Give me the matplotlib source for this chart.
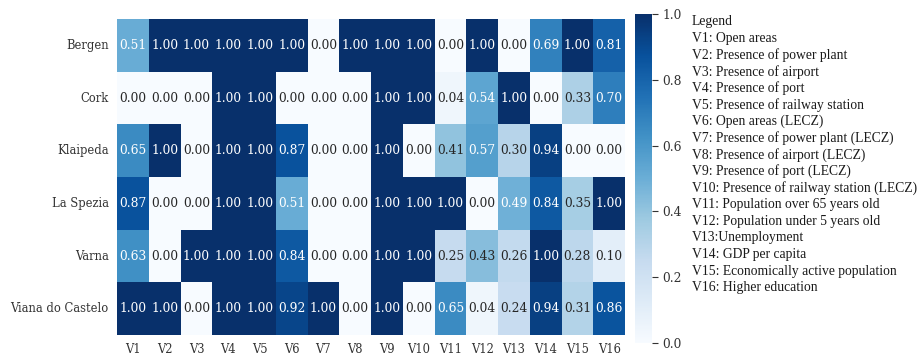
import numpy as np
import pandas as pd
import matplotlib
matplotlib.use('Agg')
import matplotlib.pyplot as plt
import seaborn as sns

## data ##
cities = ['Bergen', 'Cork', 'Klaipeda', 'La Spezia', 'Varna', 'Viana do Castelo']
variables = ['V' + str(i) for i in range(1, 17)]

bergen   = [0.51, 1.00, 1.00, 1.00, 1.00, 1.00, 0.00, 1.00, 1.00, 1.00, 0.00, 1.00, 0.00, 0.69, 1.00, 0.81]
cork     = [0.00, 0.00, 0.00, 1.00, 1.00, 0.00, 0.00, 0.00, 1.00, 1.00, 0.04, 0.54, 1.00, 0.00, 0.33, 0.70]
klaipeda = [0.65, 1.00, 0.00, 1.00, 1.00, 0.87, 0.00, 0.00, 1.00, 0.00, 0.41, 0.57, 0.30, 0.94, 0.00, 0.00]
spezia   = [0.87, 0.00, 0.00, 1.00, 1.00, 0.51, 0.00, 0.00, 1.00, 1.00, 1.00, 0.00, 0.49, 0.84, 0.35, 1.00]
varna    = [0.63, 0.00, 1.00, 1.00, 1.00, 0.84, 0.00, 0.00, 1.00, 1.00, 0.25, 0.43, 0.26, 1.00, 0.28, 0.10]
viana    = [1.00, 1.00, 0.00, 1.00, 1.00, 0.92, 1.00, 0.00, 1.00, 0.00, 0.65, 0.04, 0.24, 0.94, 0.31, 0.86]

legend_lines = ['Legend',
                'V1: Open areas',
                'V2: Presence of power plant',
                'V3: Presence of airport',
                'V4: Presence of port',
                'V5: Presence of railway station',
                'V6: Open areas (LECZ)',
                'V7: Presence of power plant (LECZ)',
                'V8: Presence of airport (LECZ)',
                'V9: Presence of port (LECZ)',
                'V10: Presence of railway station (LECZ)',
                'V11: Population over 65 years old',
                'V12: Population under 5 years old',
                'V13:Unemployment',
                'V14: GDP per capita',
                'V15: Economically active population',
                'V16: Higher education']

df = pd.DataFrame([bergen, cork, klaipeda, spezia, varna, viana],
                  index=cities, columns=variables)

## plot ##
W, H = 921, 355
fig = plt.figure(figsize=(W / 100, H / 100), dpi=100)
ax = fig.add_axes([117 / W, 1 - 335 / H, (625 - 117) / W, (335 - 19) / H])
cax = fig.add_axes([635 / W, 1 - 343 / H, (652 - 635) / W, (343 - 14) / H])

plt.rcParams['font.family'] = 'DejaVu Serif'
sns.heatmap(df, ax=ax, cbar_ax=cax, cmap='Blues', vmin=0, vmax=1,
            annot=True, fmt='.2f',
            annot_kws={'fontsize': 8.8, 'family': 'DejaVu Serif'})

ax.tick_params(length=0, labelsize=8.3, colors='#333333', pad=6)
for lab in ax.get_yticklabels():
    lab.set_rotation(0)
    lab.set_family('DejaVu Serif')
for lab in ax.get_xticklabels():
    lab.set_family('DejaVu Serif')
ax.set_xlabel('')
ax.set_ylabel('')

cax.tick_params(labelsize=8.8, colors='#333333', length=4, width=0.8)
cax.set_yticks([0, 0.2, 0.4, 0.6, 0.8, 1.0])
cax.set_yticklabels(['0.0', '0.2', '0.4', '0.6', '0.8', '1.0'], family='DejaVu Serif')

# variable legend as plain text
y0 = 22
for i, line in enumerate(legend_lines):
    fig.text(692 / W, 1 - (y0 + 16.6 * i) / H, line, family='Liberation Serif',
             fontsize=9.8, color='#1a1a1a', va='center', ha='left')

plt.savefig('out.png', dpi=100)
